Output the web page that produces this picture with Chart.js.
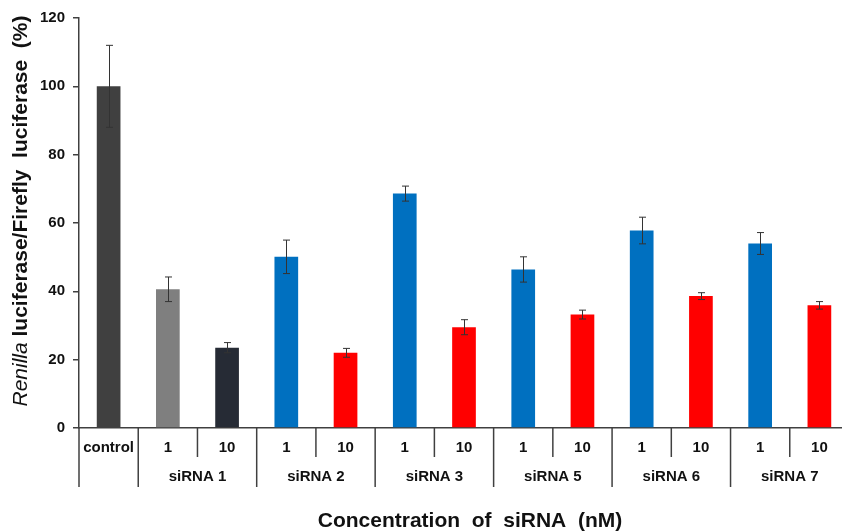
<!DOCTYPE html>
<html lang="en">
<head>
    <meta charset="UTF-8">
    <title>siRNA knockdown</title>
    <script src="https://cdn.jsdelivr.net/npm/chart.js"></script>
    <style>
        html, body { margin: 0; padding: 0; background: #fff; overflow: hidden; }
        #wrap { width: 849px; height: 531px; position: relative; }
    </style>
</head>
<body>
    <div id="wrap"><canvas id="chart"></canvas></div>

    <script>
        // chart data
        const categories = ['control', '1', '10', '1', '10', '1', '10', '1', '10', '1', '10', '1', '10'];
        const groups = ['siRNA 1', 'siRNA 2', 'siRNA 3', 'siRNA 5', 'siRNA 6', 'siRNA 7'];
        const values = [100, 40.6, 23.5, 50.1, 22.0, 68.6, 29.5, 46.4, 33.2, 57.8, 38.6, 54.0, 35.9];
        const errors = [12, 3.6, 1.5, 4.9, 1.3, 2.2, 2.2, 3.7, 1.3, 3.9, 1.0, 3.2, 1.1];
        const barColors = ['#404040', '#7f7f7f', '#262b35',
            '#0070c0', '#ff0000', '#0070c0', '#ff0000', '#0070c0', '#ff0000',
            '#0070c0', '#ff0000', '#0070c0', '#ff0000'];
        const yTicks = [0, 20, 40, 60, 80, 100, 120];

        const FONT = '"Liberation Sans", Arial, sans-serif';
        const AXIS = '#404040';

        // error bars on top of each bar
        const errorBars = {
            id: 'errorBars',
            afterDatasetsDraw(chart) {
                const y = chart.scales.y;
                const meta = chart.getDatasetMeta(0);
                const c = chart.ctx;
                c.save();
                c.strokeStyle = '#333';
                c.lineWidth = 1;
                meta.data.forEach((bar, i) => {
                    const x = Math.round(bar.x) + 0.5;
                    const top = y.getPixelForValue(values[i] + errors[i]);
                    const bot = y.getPixelForValue(values[i] - errors[i]);
                    c.beginPath();
                    c.moveTo(x, top); c.lineTo(x, bot);
                    c.moveTo(x - 3.5, top); c.lineTo(x + 3.5, top);
                    c.moveTo(x - 3.5, bot); c.lineTo(x + 3.5, bot);
                    c.stroke();
                });
                c.restore();
            }
        };

        // two-row category table under the axis + titles
        const axisTable = {
            id: 'axisTable',
            afterDraw(chart) {
                const xs = chart.scales.x;
                const area = chart.chartArea;
                const c = chart.ctx;
                const step = xs.getPixelForValue(1) - xs.getPixelForValue(0);
                const base = area.bottom;

                c.save();
                c.strokeStyle = AXIS;
                c.lineWidth = 1.5;
                for (let i = 0; i <= categories.length; i++) {
                    const x = xs.getPixelForValue(i) - step / 2;
                    const len = (i % 2 === 1 || i === 0) ? 59 : 29;
                    c.beginPath();
                    c.moveTo(x, base);
                    c.lineTo(x, base + len);
                    c.stroke();
                }

                c.fillStyle = '#111';
                c.textAlign = 'center';
                c.textBaseline = 'middle';
                c.font = 'bold 15px ' + FONT;
                categories.forEach((lab, i) => {
                    c.fillText(lab, xs.getPixelForValue(i), base + 20);
                });
                groups.forEach((g, k) => {
                    const x = (xs.getPixelForValue(2 * k + 1) + xs.getPixelForValue(2 * k + 2)) / 2;
                    c.fillText(g, x, base + 49);
                });

                c.font = 'bold 21px ' + FONT;
                c.fillText('Concentration  of  siRNA  (nM)', (area.left + area.right) / 2 + 6, base + 93);

                // y title: italic Renilla + bold rest
                const partA = 'Renilla';
                const partB = ' luciferase/Firefly  luciferase  (%)';
                c.translate(21, 211);
                c.rotate(-Math.PI / 2);
                c.font = 'italic 21px ' + FONT;
                const wA = c.measureText(partA).width;
                c.font = 'bold 21px ' + FONT;
                const wB = c.measureText(partB).width;
                const start = -(wA + wB) / 2;
                c.textAlign = 'left';
                c.font = 'italic 21px ' + FONT;
                c.fillText(partA, start, 0);
                c.font = 'bold 21px ' + FONT;
                c.fillText(partB, start + wA, 0);
                c.restore();
            }
        };

        const ctx = document.getElementById('chart').getContext('2d');
        new Chart(ctx, {
            type: 'bar',
            data: {
                labels: categories,
                datasets: [{
                    data: values,
                    backgroundColor: barColors,
                    barPercentage: 0.4,
                    categoryPercentage: 1.0,
                    borderWidth: 0
                }]
            },
            options: {
                responsive: true,
                maintainAspectRatio: false,
                animation: false,
                layout: { padding: { top: 18, right: 0, left: 0, bottom: 0 } },
                plugins: { legend: { display: false }, tooltip: { enabled: false } },
                scales: {
                    x: {
                        ticks: { display: false },
                        grid: { display: false },
                        border: { display: true, color: AXIS, width: 1.5 },
                        afterFit(scale) { scale.height = 103; }
                    },
                    y: {
                        min: 0,
                        max: 120,
                        afterBuildTicks(scale) { scale.ticks = yTicks.map(v => ({ value: v })); },
                        ticks: {
                            color: '#111',
                            padding: 8,
                            font: { family: FONT, size: 15, weight: 'bold' }
                        },
                        grid: { drawOnChartArea: false, drawTicks: true, tickLength: 6, color: AXIS, lineWidth: 1.5 },
                        border: { display: true, color: AXIS, width: 1.5 },
                        afterFit(scale) { scale.width = 79; }
                    }
                }
            },
            plugins: [errorBars, axisTable]
        });
    </script>
</body>
</html>
